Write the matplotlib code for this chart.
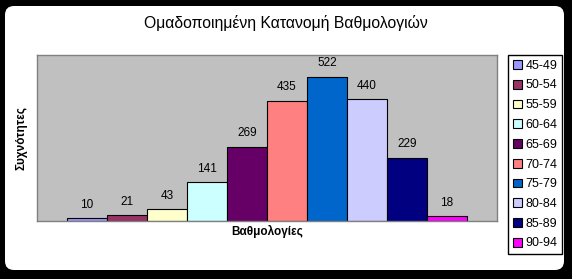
import matplotlib
matplotlib.use("Agg")
import matplotlib.pyplot as plt
from matplotlib.patches import FancyBboxPatch

plt.rcParams['font.family'] = ['Liberation Sans', 'DejaVu Sans']

# Data
groups = ['45-49', '50-54', '55-59', '60-64', '65-69', '70-74', '75-79', '80-84', '85-89', '90-94']
counts = [10, 21, 43, 141, 269, 435, 522, 440, 229, 18]
colors = ['#9999FF', '#993366', '#FFFFCC', '#CCFFFF', '#660066',
          '#FF8080', '#0066CC', '#CCCCFF', '#000080', '#FF00FF']

W, H = 572, 279
fig = plt.figure(figsize=(W / 100, H / 100), dpi=100, facecolor='black')

# white rounded chart area (in inches, drawn behind the axes)
bg = FancyBboxPatch((0.05, 0.09), 5.59, 2.64,
                    boxstyle="round,pad=0,rounding_size=0.09",
                    transform=fig.dpi_scale_trans, facecolor='white', edgecolor='none',
                    zorder=-10)
fig.patches.append(bg)

ax = fig.add_axes([37 / W, (H - 221) / H, 460 / W, 166 / H])
ax.set_facecolor('#C0C0C0')
for s in ax.spines.values():
    s.set_color('#808080')
    s.set_linewidth(1)

handles = []
for i, (g, c, col) in enumerate(zip(groups, counts, colors)):
    b = ax.bar(i, c, width=1, color=col, edgecolor='black', linewidth=0.8, label=g)
    handles.append(b)
    ax.text(i, c + 27, str(c), ha='center', va='bottom', fontsize=8.5)

ax.set_xlim(-1.25, 10.25)
ax.set_ylim(0, 600)
ax.set_xticks([])
ax.set_yticks([])

fig.text(286 / W, 1 - 23 / H, 'Ομαδοποιημένη Κατανομή Βαθμολογιών',
         ha='center', va='center', fontsize=11.3)
fig.text(267 / W, 1 - 231 / H, 'Βαθμολογίες', ha='center', va='center',
         fontsize=8.5, fontweight='bold')
fig.text(22 / W, 1 - 138 / H, 'Συχνότητες', ha='center', va='center',
         fontsize=8.5, fontweight='bold', rotation=90)

leg = fig.legend(handles=handles, labels=groups, loc='upper left',
                 bbox_to_anchor=(508 / W, 1 - 55 / H), fontsize=9,
                 handlelength=0.7, handleheight=0.7, handletextpad=0.3,
                 labelspacing=0.62, borderpad=0.38, fancybox=False,
                 edgecolor='black', framealpha=1, borderaxespad=0)
leg.get_frame().set_linewidth(1)

fig.savefig('out.png', dpi=100, facecolor='black')
